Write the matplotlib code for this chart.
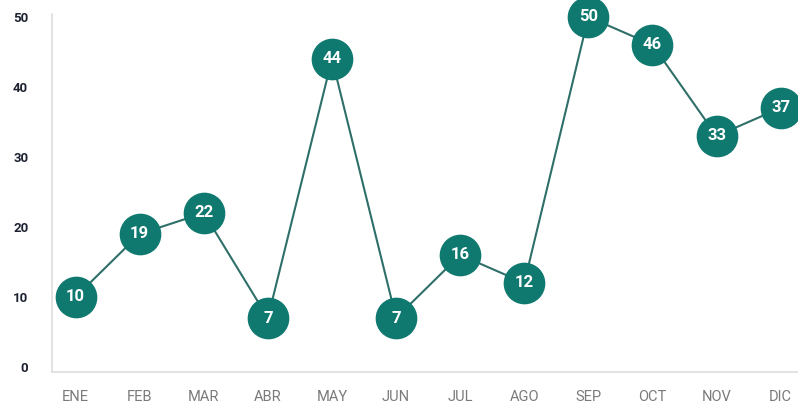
import matplotlib
matplotlib.use("Agg")
import matplotlib.pyplot as plt

months = ["ENE", "FEB", "MAR", "ABR", "MAY", "JUN", "JUL", "AGO", "SEP", "OCT", "NOV", "DIC"]
values = [10, 19, 22, 7, 44, 7, 16, 12, 50, 46, 33, 37]
yticks = [0, 10, 20, 30, 40, 50]

teal = "#0f796f"
line_c = "#2f6f69"

fig = plt.figure(figsize=(7.98, 4.07), dpi=100)
ax = fig.add_axes([0.065, 0.086, 0.935, 0.88])
x = list(range(len(months)))
ax.plot(x, values, color=line_c, lw=1.5, zorder=2, clip_on=False)
ax.plot(x, values, "o", ms=29, color=teal, mec=teal, zorder=3, clip_on=False)
for xi, v in zip(x, values):
    ax.text(xi, v, str(v), ha="center", va="center", color="white",
            fontsize=12, fontweight="bold", family="Roboto", zorder=4)

ax.set_xlim(-0.37, 11.27)
ax.set_ylim(-0.71, 50.43)
ax.set_xticks(x)
ax.set_xticklabels(months, family="Roboto", fontsize=10.5, color="#7a7a7a")
ax.set_yticks(yticks)
ax.set_yticklabels([str(t) for t in yticks], family="Roboto", fontsize=9.5,
                   fontweight="bold", color="#1c2230")
ax.tick_params(axis="x", length=0, pad=13)
ax.tick_params(axis="y", length=0, pad=17)
for s in ["top", "right"]:
    ax.spines[s].set_visible(False)
for s in ["left", "bottom"]:
    ax.spines[s].set_color("#dddddd")
    ax.spines[s].set_linewidth(1.2)
fig.savefig("out.png", dpi=100)
